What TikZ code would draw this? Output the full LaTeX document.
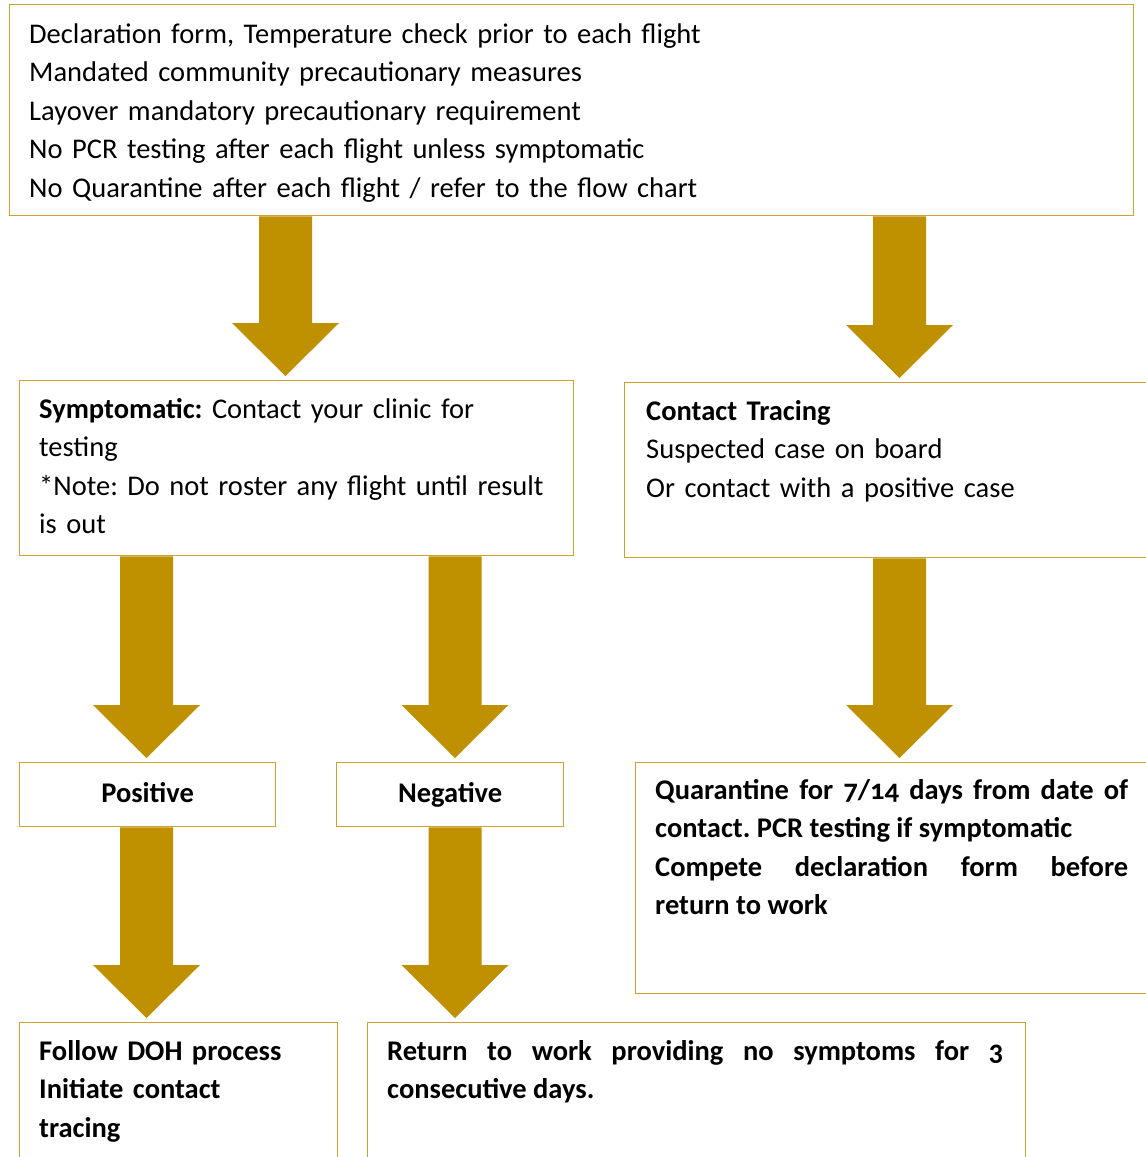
\documentclass[tikz,border=0pt]{standalone}
\usepackage{fontspec}
\setmainfont{Carlito}[Numbers=OldStyle]
\usetikzlibrary{calc}

\definecolor{arrowgold}{RGB}{191,144,0}
\definecolor{boxgold}{RGB}{201,163,46}

\newcommand{\boxfont}{\fontsize{28.5}{38.5}\selectfont\frenchspacing}

\tikzset{
  panel/.style={draw=boxgold, line width=1.3pt, rectangle, inner sep=0pt, anchor=north west},
  result/.style={panel, minimum height=64pt, text height=21pt, text depth=5pt, font=\boxfont\bfseries},
  txt/.style={inner sep=0pt, anchor=base west, font=\boxfont},
}

% block arrow: #1 from node, #2 to node, #3 x of the arrow axis
\newcommand{\flowarrow}[3]{%
  \path (#3,0 |- #1.south) coordinate (as) (#3,0 |- #2.north) coordinate (at);
  \fill[arrowgold] ([xshift=-26.5pt]as) -- ([xshift=26.5pt]as)
    -- ([shift={(26.5pt,57pt)}]at) -- ([shift={(53.5pt,57pt)}]at)
    -- ([yshift=4pt]at)
    -- ([shift={(-53.5pt,57pt)}]at) -- ([shift={(-26.5pt,57pt)}]at) -- cycle;
}

\begin{document}
\begin{tikzpicture}[x=1pt, y=-1pt]
  \useasboundingbox (0,0) rectangle (1146,1157);
  \clip (0,0) rectangle (1146,1157);
  \fill[white] (0,0) rectangle (1146,1157);

  % --- boxes ---
  \node[panel, minimum width=1124pt, minimum height=211pt] (top) at (9,4) {};
  \node[panel, minimum width=554pt, minimum height=175pt] (sym) at (19,380) {};
  \node[panel, minimum width=540pt, minimum height=175pt] (con) at (624,382) {};
  \node[result, minimum width=256pt] (pos) at (19,762) {Positive};
  \node[result, minimum width=227pt] (neg) at (336,762) {Negative};
  \node[panel, minimum width=530pt, minimum height=231pt] (qua) at (635,762) {};
  \node[panel, minimum width=318pt, minimum height=160pt] (fol) at (19,1022) {};
  \node[panel, minimum width=658pt, minimum height=160pt] (ret) at (367,1022) {};

  % --- texts ---
  \node[txt, text width=1090pt, align=left] (topText) at (29,43)
    {Declaration form, Temperature check prior to each flight\\
     Mandated community precautionary measures\\
     Layover mandatory precautionary requirement\\
     No PCR testing after each flight unless symptomatic\\
     No Quarantine after each flight / refer to the flow chart};
  \node[txt, text width=530pt, align=left] (symText) at (39,418)
    {\textbf{Symptomatic:} Contact your clinic for\\
     testing\\
     {*}Note: Do not roster any flight until result\\
     is out};
  \node[txt, text width=500pt, align=left] (conText) at (646,420)
    {\textbf{Contact Tracing}\\
     Suspected case on board\\
     Or contact with a positive case};
  \node[txt, text width=473pt, align=justify, font=\boxfont\bfseries] (quaText) at (655,799)
    {Quarantine for 7/14 days from date of\linebreak
     contact. PCR testing if symptomatic\\
     Compete declaration form before\linebreak
     return to work};
  \node[txt, text width=300pt, align=left, font=\boxfont\bfseries] (folText) at (39,1060)
    {Follow DOH process\\
     Initiate contact\\
     tracing};
  \node[txt, text width=616pt, align=justify, font=\boxfont\bfseries] (retText) at (387,1060)
    {Return to work providing no symptoms for 3\linebreak
     consecutive days.};

  % --- arrows ---
  \flowarrow{top}{sym}{285.5}
  \flowarrow{top}{con}{899.5}
  \flowarrow{sym}{pos}{146.5}
  \flowarrow{sym}{neg}{455}
  \flowarrow{con}{qua}{899.5}
  \flowarrow{pos}{fol}{146.5}
  \flowarrow{neg}{ret}{455}
\end{tikzpicture}
\end{document}
